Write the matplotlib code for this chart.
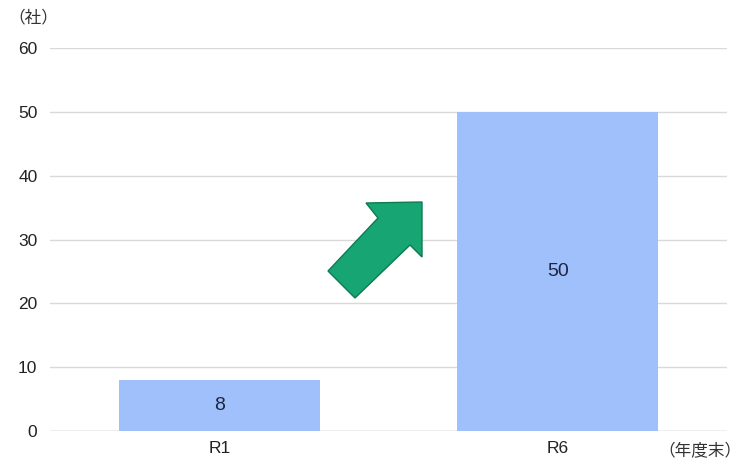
import matplotlib
matplotlib.use("Agg")
from matplotlib import pyplot as plt
from matplotlib.patches import Polygon

plt.rcParams['font.family'] = ['Liberation Sans', 'Noto Sans CJK JP', 'DejaVu Sans']

categories = ["R1", "R6"]
values = [8, 50]
yticks = [0, 10, 20, 30, 40, 50, 60]

W, H = 742, 463
fig = plt.figure(figsize=(W / 100, H / 100), dpi=100)
ax = fig.add_axes([50 / W, 1 - 431 / H, 677 / W, 383 / H])

x = range(len(categories))
ax.bar(x, values, width=0.593, color="#9fc0fa", zorder=2)
for i, v in zip(x, values):
    ax.text(i, v / 2, str(v), ha="center", va="center", fontsize=14, color="#1c2640", zorder=3)

ax.set_xlim(-0.5, 1.5)
ax.set_ylim(0, 60)
ax.set_yticks(yticks)
ax.set_xticks(list(x))
ax.set_xticklabels(categories)
ax.tick_params(length=0, labelsize=12.5, colors="#222222")
ax.tick_params(axis="y", pad=9)
ax.tick_params(axis="x", pad=7)
ax.grid(axis="y", color="#d9d9d9", linewidth=1, zorder=0)
for s in ax.spines.values():
    s.set_visible(False)
ax.axhline(0, color="#c8c8c8", linewidth=1, zorder=1)

fig.text(8 / W, 1 - 18 / H, "（社）", fontsize=12, color="#333333", va="center", ha="left",
         family=['Noto Sans CJK JP', 'DejaVu Sans'])
fig.text(741 / W, 1 - 452 / H, "（年度末）", fontsize=12, color="#333333", va="center", ha="right",
         family=['Noto Sans CJK JP', 'DejaVu Sans'])

# 右上向きの矢印（ピクセル座標で描く）
pts = [(328, 271), (378, 218), (366, 203), (422, 202), (422, 257), (410, 245), (355, 298)]
arrow = Polygon([(px / W, 1 - py / H) for px, py in pts], closed=True,
                transform=fig.transFigure, facecolor="#17a673", edgecolor="#0d7a52", linewidth=1)
fig.patches.append(arrow)

fig.savefig("out.png", dpi=100)
